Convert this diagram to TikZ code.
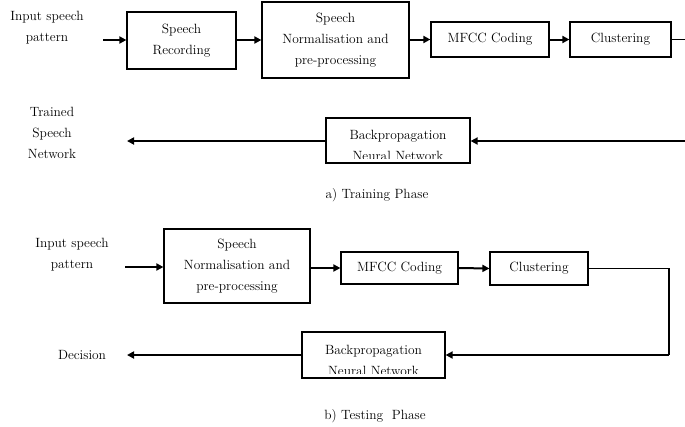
\documentclass[tikz,border=0pt]{standalone}
\usetikzlibrary{arrows.meta}
\begin{document}
\begin{tikzpicture}[x=1pt,y=-1pt,
  lbl/.style={font=\fontsize{13.4}{21}\selectfont, align=center, inner sep=0pt},
  blk/.style={draw, line width=1.2pt, inner sep=0pt, font=\fontsize{13.4}{21}\selectfont, align=center},
  arr/.style={line width=2pt, -{Triangle[length=7pt,width=7pt]}},
  ln/.style={line width=1.3pt}]
\useasboundingbox[fill=white] (0,0) rectangle (685,426);
% ---------- Training phase ----------
\node[lbl] (in1) at (47,28) {Input speech\\pattern};
\coordinate (a1) at (103,40);
\node[blk, minimum width=109pt, minimum height=57pt] (rec) at (181.5,40.5) {Speech\\Recording};
\node[blk, minimum width=147pt, minimum height=76pt] (norm1) at (335.5,40) {Speech\\Normalisation and\\pre-processing};
\node[blk, minimum width=118pt, minimum height=35pt] (mfcc1) at (490,39.5) {MFCC Coding};
\node[blk, minimum width=101pt, minimum height=35pt] (clus1) at (620.5,39.5) {Clustering};
\coordinate (e1) at (685,39.5);
\draw[arr] (a1) -- (rec.west |- a1);
\draw[arr] (rec.east |- a1) -- (norm1.west |- a1);
\draw[arr] (norm1.east |- mfcc1) -- (mfcc1.west);
\draw[arr] (mfcc1.east) -- (clus1.west);
\draw[ln] (clus1.east) -- (e1);

\node[blk, minimum width=144pt, minimum height=45pt] (bp1) at (398,140.5) {};
\begin{scope}
  \clip (bp1.north west) rectangle ([yshift=5pt]bp1.south east);
  \node[lbl] (bp1t) at (398,145.5) {Backpropagation\\Neural Network};
\end{scope}
\node[lbl] (tr) at (52,133) {Trained\\Speech\\Network};
\coordinate (t1) at (127,141);
\coordinate (e1b) at (685,141);
\draw[arr] (e1b) -- (bp1.east |- e1b);
\draw[arr] (bp1.west |- t1) -- (t1);
\node[lbl] (capa) at (377,195) {a)\ Training Phase};

% ---------- Testing phase ----------
\node[lbl] (in2) at (72,255) {Input speech\\pattern};
\coordinate (a2) at (125,267);
\node[blk, minimum width=146pt, minimum height=74pt] (norm2) at (237,266) {Speech\\Normalisation and\\pre-processing};
\node[blk, minimum width=117pt, minimum height=32pt] (mfcc2) at (399.5,268) {MFCC Coding};
\node[blk, minimum width=98pt, minimum height=33pt] (clus2) at (539,268.5) {Clustering};
\draw[arr] (a2) -- (norm2.west |- a2);
\draw[arr] (norm2.east |- mfcc2) -- (mfcc2.west);
\draw[arr] (mfcc2.east) -- (clus2.west);

\node[blk, minimum width=143pt, minimum height=46pt] (bp2) at (373.5,355) {};
\begin{scope}
  \clip (bp2.north west) rectangle ([yshift=5pt]bp2.south east);
  \node[lbl] (bp2t) at (373.5,360.5) {Backpropagation\\Neural Network};
\end{scope}
\coordinate (c1) at (669,268.5);
\coordinate (c2) at (669,355);
\draw[ln] (clus2.east) -- (c1) -- (c2);
\draw[arr] (c2) -- (bp2.east);
\node[lbl] (dec) at (82,355) {Decision};
\coordinate (t2) at (127,355);
\draw[arr] (bp2.west) -- (t2);
\node[lbl] (capb) at (375,416) {b)\ Testing\ \ Phase};
\end{tikzpicture}
\end{document}
